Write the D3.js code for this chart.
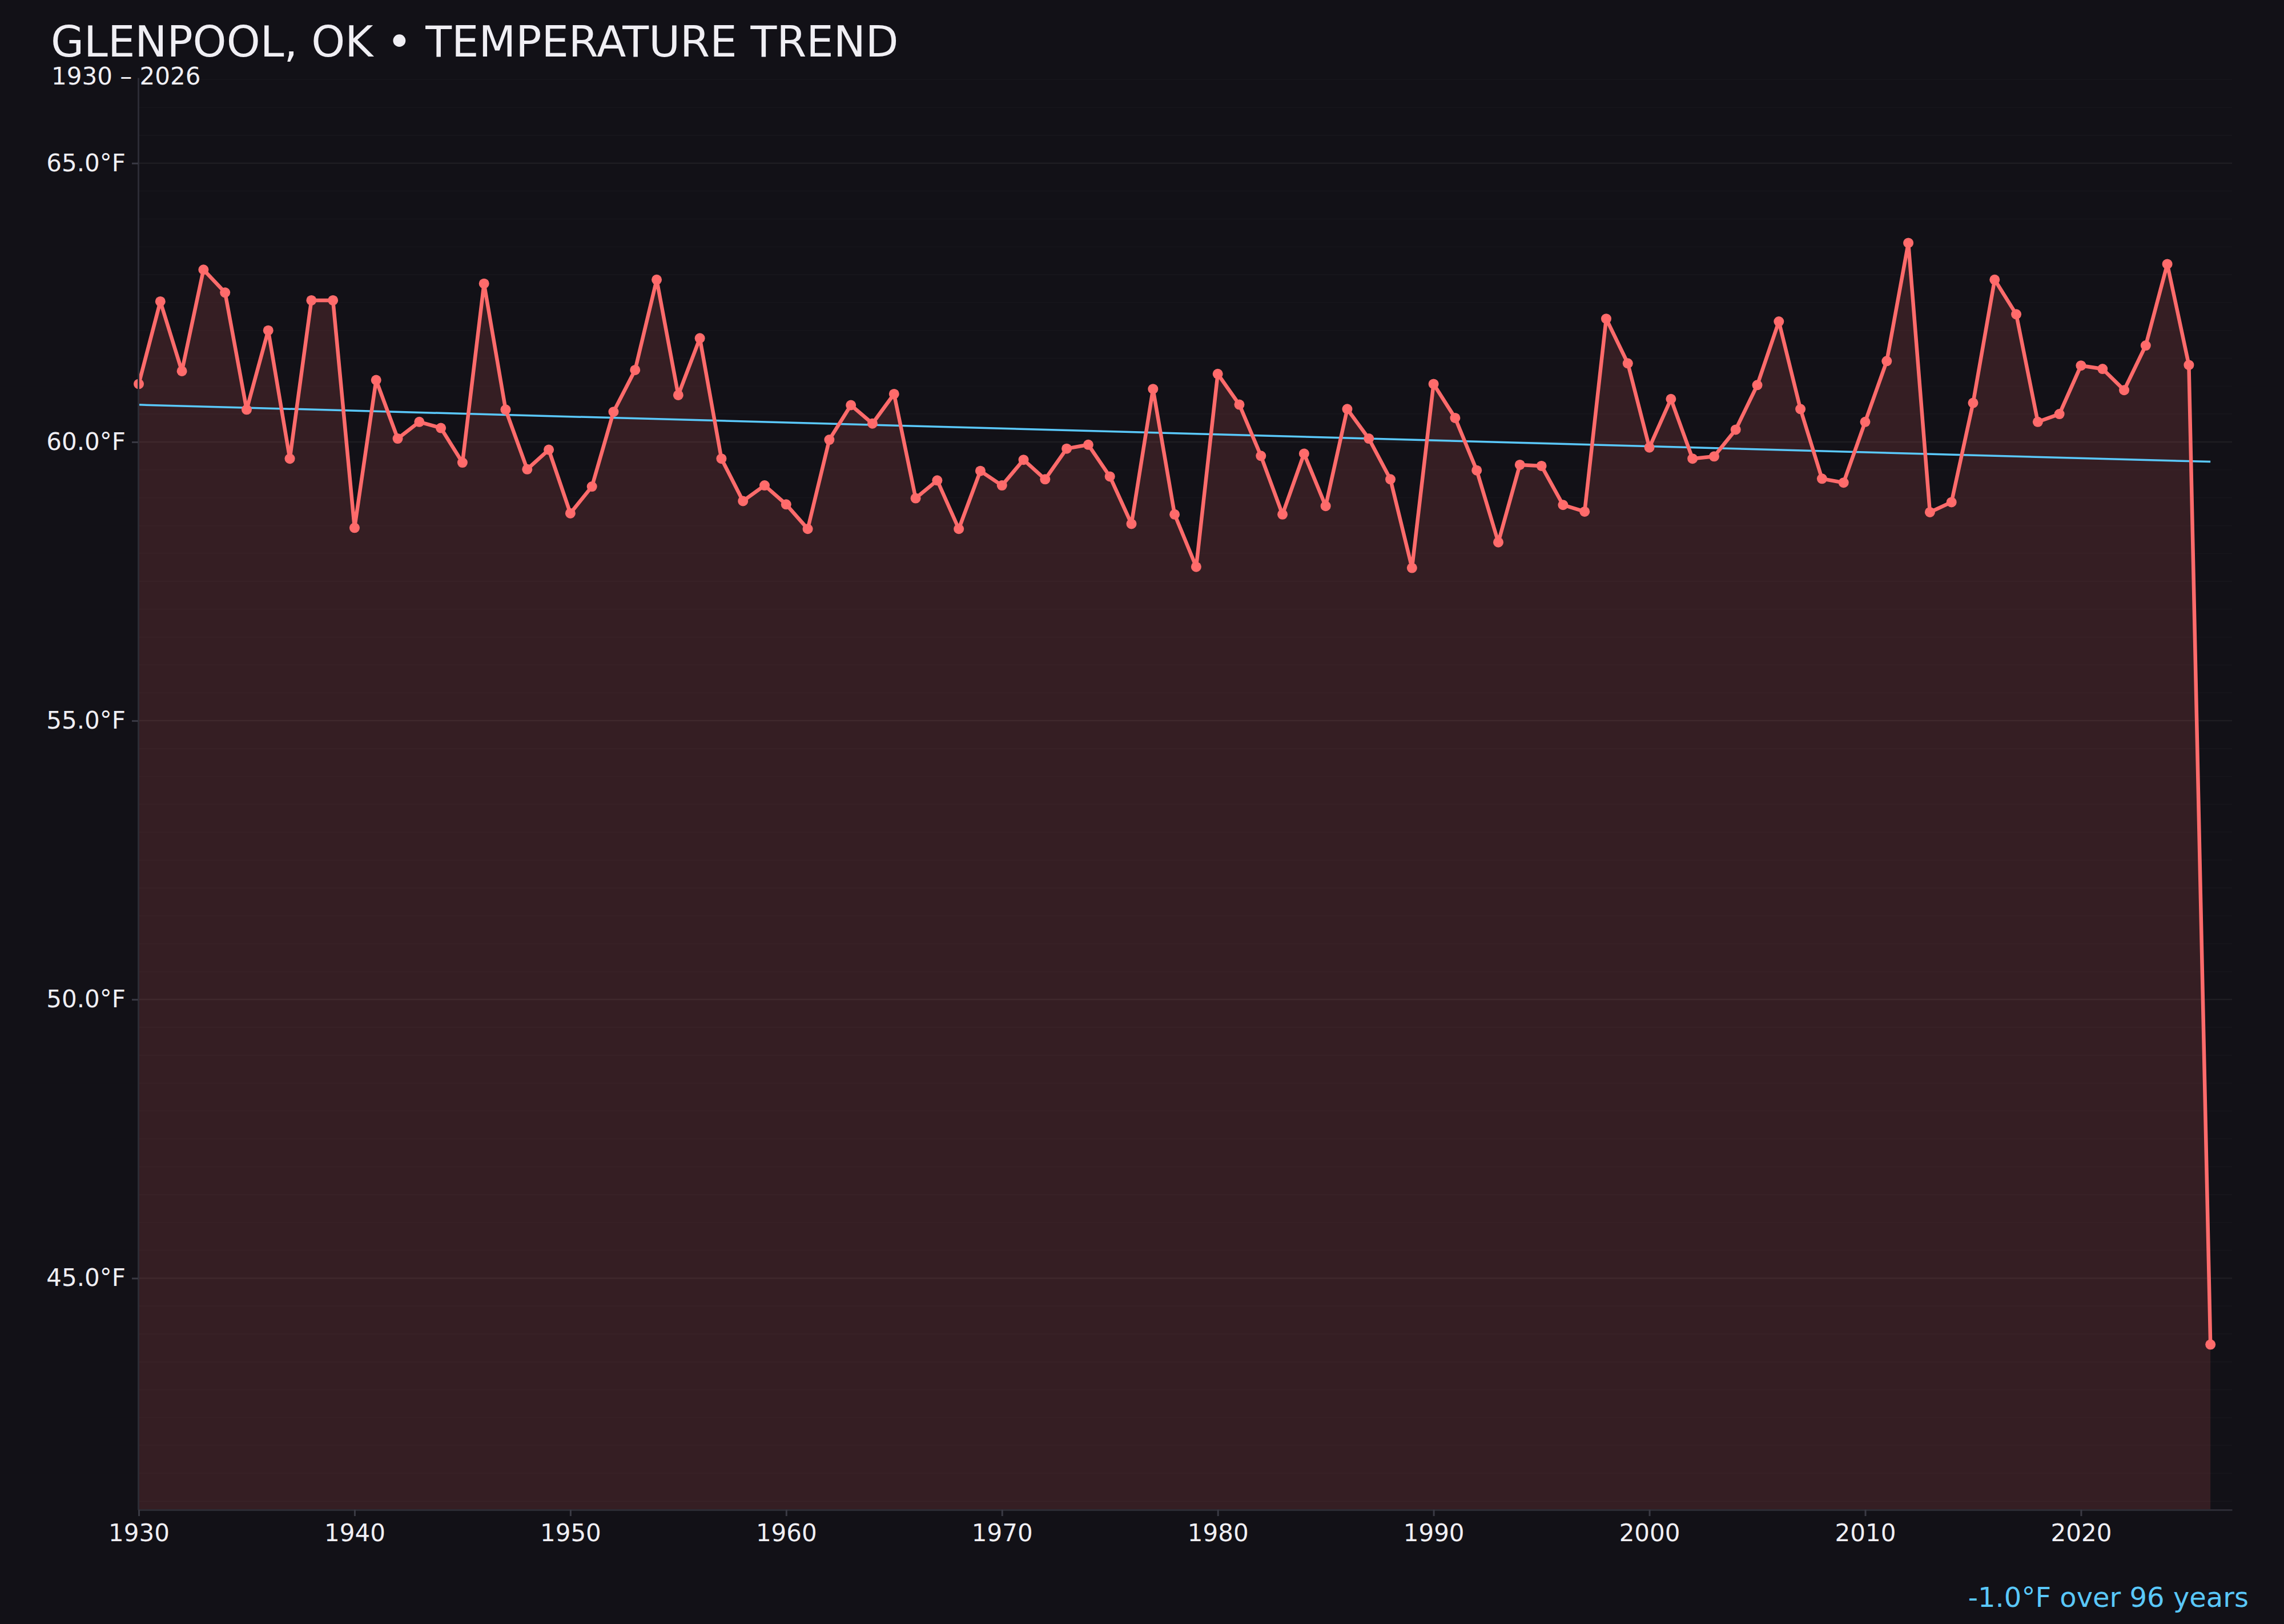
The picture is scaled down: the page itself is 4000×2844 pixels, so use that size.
<!DOCTYPE html>
<html>
<head>
<meta charset="utf-8">
<script src="https://cdn.jsdelivr.net/npm/d3@7"></script>
<style>
  html, body { margin: 0; padding: 0; background: #121117; }
  svg { display: block; }
</style>
</head>
<body>
<svg id="chart" width="4000" height="2844"></svg>
<script>
// ---- Data ----
const years = d3.range(1930, 2027);
const temps = [
  61.04, 62.52, 61.27, 63.09, 62.68, 60.58, 62.00, 59.70, 62.54, 62.54,
  58.46, 61.11, 60.06, 60.36, 60.25, 59.63, 62.84, 60.58, 59.51, 59.86,
  58.72, 59.20, 60.54, 61.29, 62.91, 60.84, 61.86, 59.70, 58.94, 59.22,
  58.88, 58.44, 60.04, 60.66, 60.33, 60.86, 58.99, 59.31, 58.44, 59.48,
  59.22, 59.68, 59.33, 59.88, 59.95, 59.38, 58.53, 60.95, 58.70, 57.76,
  61.22, 60.67, 59.75, 58.70, 59.79, 58.85, 60.59, 60.06, 59.33, 57.74,
  61.04, 60.43, 59.49, 58.20, 59.59, 59.57, 58.87, 58.75, 62.21, 61.41,
  59.90, 60.77, 59.70, 59.74, 60.22, 61.02, 62.16, 60.59, 59.34, 59.27,
  60.36, 61.45, 63.57, 58.74, 58.92, 60.70, 62.91, 62.29, 60.36, 60.50,
  61.37, 61.31, 60.93, 61.73, 63.19, 61.38, 43.81
];
const yTickValues = [45, 50, 55, 60, 65];
const xTickValues = [1930, 1940, 1950, 1960, 1970, 1980, 1990, 2000, 2010, 2020];
const titleText = "GLENPOOL, OK \u2022 TEMPERATURE TREND";
const subtitleText = "1930 \u2013 2026";
const trendText = "-1.0\u00B0F over 96 years";

(function () {
const data = years.map((yr, i) => ({ year: yr, temp: temps[i] }));

// ---- Layout ----
const FONT = "DejaVu Sans";
const pL = 243, pR = 3909, pT = 136, pB = 2644;
const BG = "#121117";
const LINE = "#ff6b6b";
const TREND = "#5ac8fa";
const TEXT = "#f0eff4";

const svg = d3.select("#chart");
svg.append("rect").attr("width", 4000).attr("height", 2844).attr("fill", BG);

const minT = d3.min(temps), maxT = d3.max(temps);
const pad = (maxT - minT) * 0.15;
const x = d3.scaleLinear().domain([d3.min(years), d3.max(years) + 1]).range([pL, pR]);
const y = d3.scaleLinear().domain([minT - pad, maxT + pad]).range([pB, pT]);

// minor grid
svg.append("g").selectAll("line")
  .data(y.ticks(50).filter(v => !yTickValues.includes(v)))
  .join("line")
  .attr("x1", pL).attr("x2", pR)
  .attr("y1", d => y(d)).attr("y2", d => y(d))
  .attr("stroke", "#ffffff").attr("stroke-opacity", 0.018).attr("stroke-width", 2);

// major grid
svg.append("g").selectAll("line")
  .data(yTickValues)
  .join("line")
  .attr("x1", pL).attr("x2", pR)
  .attr("y1", d => y(d)).attr("y2", d => y(d))
  .attr("stroke", "#ffffff").attr("stroke-opacity", 0.05).attr("stroke-width", 2.5);

// area fill
const area = d3.area().x(d => x(d.year)).y0(pB).y1(d => y(d.temp));
svg.append("path").datum(data).attr("d", area)
  .attr("fill", LINE).attr("fill-opacity", 0.15);

// trend (least squares)
const xm = d3.mean(years), ym = d3.mean(temps);
let sxy = 0, sxx = 0;
years.forEach((yr, i) => { sxy += (yr - xm) * (temps[i] - ym); sxx += (yr - xm) * (yr - xm); });
const slope = sxy / sxx;
const trendData = [d3.min(years), d3.max(years)].map(yr => ({ year: yr, temp: ym + slope * (yr - xm) }));
svg.append("path").datum(trendData)
  .attr("d", d3.line().x(d => x(d.year)).y(d => y(d.temp)))
  .attr("fill", "none").attr("stroke", TREND).attr("stroke-width", 3.5);

// main line
svg.append("path").datum(data)
  .attr("d", d3.line().x(d => x(d.year)).y(d => y(d.temp)))
  .attr("fill", "none").attr("stroke", LINE).attr("stroke-width", 6.5)
  .attr("stroke-linejoin", "round");

svg.append("g").selectAll("circle")
  .data(data).join("circle")
  .attr("cx", d => x(d.year)).attr("cy", d => y(d.temp))
  .attr("r", 9).attr("fill", LINE);

// axes
const yAxis = svg.append("g").attr("transform", `translate(${pL - 1},0)`)
  .call(d3.axisLeft(y).tickValues(yTickValues).tickSize(11).tickSizeOuter(0).tickPadding(11)
    .tickFormat(d => d.toFixed(1) + "\u00B0F"));
const xAxis = svg.append("g").attr("transform", `translate(0,${pB})`)
  .call(d3.axisBottom(x).tickValues(xTickValues).tickSize(11).tickSizeOuter(0).tickPadding(14)
    .tickFormat(d3.format("d")));

[yAxis, xAxis].forEach(g => {
  g.select(".domain").attr("stroke", "#2c2c35").attr("stroke-width", 3);
  g.selectAll(".tick line").attr("stroke", "#3a3a44").attr("stroke-width", 3);
  g.selectAll("text").attr("fill", TEXT).attr("font-family", FONT).attr("font-size", 42);
});

// titles
svg.append("text").attr("x", 89).attr("y", 99)
  .attr("font-family", FONT).attr("font-size", 75).attr("fill", TEXT)
  .text(titleText);
svg.append("text").attr("x", 90).attr("y", 148)
  .attr("font-family", FONT).attr("font-size", 42).attr("fill", TEXT)
  .text(subtitleText);

svg.append("text").attr("x", 3938).attr("y", 2814)
  .attr("text-anchor", "end")
  .attr("font-family", FONT).attr("font-size", 48).attr("fill", TREND)
  .text(trendText);
})();
</script>
</body>
</html>
